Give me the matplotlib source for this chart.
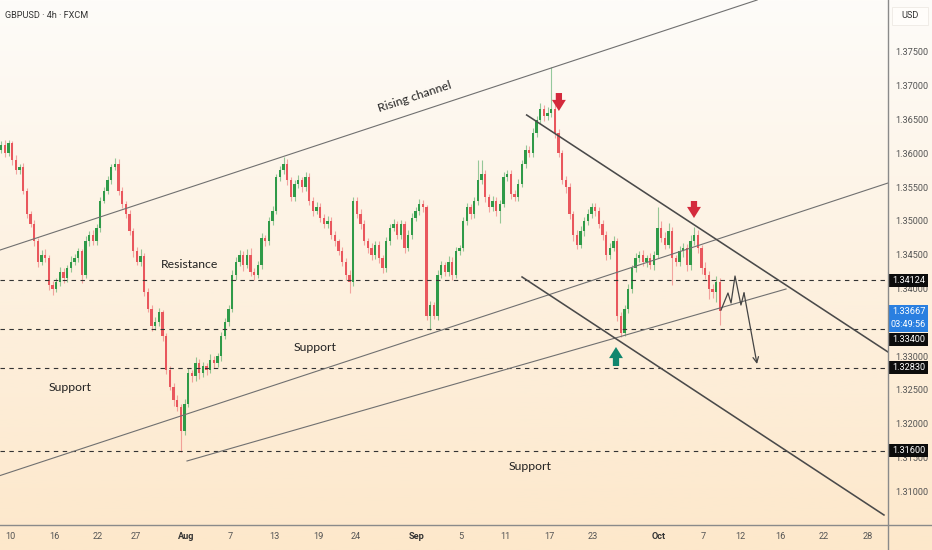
import numpy as np
import matplotlib
matplotlib.use('Agg')
import matplotlib.pyplot as plt
import matplotlib.font_manager as fm
from matplotlib.colors import LinearSegmentedColormap
from matplotlib.patches import Rectangle
from matplotlib.lines import Line2D

# ---------------- data ----------------
symbol_title = "GBPUSD · 4h · FXCM"
first_date = "2025-07-10"          # date at trading-day index 0
bar_start = -0.8                   # trading-day index of the first (8h) bar
bars_per_day = 3
first_open = 1.3605

closes = [
    1.3612, 1.3600, 1.3615, 1.3590, 1.3575, 1.3580, 1.3545, 1.3510, 1.3495, 1.3470,
    1.3440, 1.3450, 1.3445, 1.3405, 1.3400, 1.3410, 1.3425, 1.3415, 1.3430, 1.3440,
    1.3445, 1.3455, 1.3420, 1.3470, 1.3480, 1.3470, 1.3490, 1.3530, 1.3545, 1.3560,
    1.3580, 1.3585, 1.3545, 1.3525, 1.3510, 1.3485, 1.3455, 1.3440, 1.3448, 1.3395,
    1.3370, 1.3345, 1.3350, 1.3365, 1.3330, 1.3280, 1.3255, 1.3235, 1.3225, 1.3190,
    1.3230, 1.3275, 1.3270, 1.3290, 1.3275, 1.3285, 1.3280, 1.3295, 1.3290, 1.3300,
    1.3330, 1.3350, 1.3370, 1.3420, 1.3440, 1.3450, 1.3435, 1.3450, 1.3425, 1.3420,
    1.3435, 1.3475, 1.3470, 1.3500, 1.3515, 1.3565, 1.3575, 1.3585, 1.3560, 1.3535,
    1.3555, 1.3560, 1.3550, 1.3565, 1.3530, 1.3515, 1.3520, 1.3505, 1.3495, 1.3500,
    1.3480, 1.3470, 1.3455, 1.3440, 1.3420, 1.3410, 1.3530, 1.3510, 1.3495, 1.3470,
    1.3460, 1.3450, 1.3465, 1.3445, 1.3430, 1.3470, 1.3490, 1.3495, 1.3480, 1.3495,
    1.3460, 1.3480, 1.3505, 1.3515, 1.3525, 1.3520, 1.3360, 1.3375, 1.3360, 1.3420,
    1.3435, 1.3425, 1.3440, 1.3420, 1.3455, 1.3460, 1.3500, 1.3520, 1.3510, 1.3530,
    1.3560, 1.3570, 1.3535, 1.3520, 1.3530, 1.3515, 1.3525, 1.3565, 1.3570, 1.3540,
    1.3535, 1.3555, 1.3585, 1.3605, 1.3600, 1.3630, 1.3650, 1.3665, 1.3655, 1.3660,
    1.3665, 1.3630, 1.3600, 1.3560, 1.3550, 1.3510, 1.3480, 1.3465, 1.3485, 1.3500,
    1.3510, 1.3520, 1.3515, 1.3495, 1.3480, 1.3450, 1.3460, 1.3470, 1.3360, 1.3335,
    1.3370, 1.3400, 1.3430, 1.3445, 1.3450, 1.3440, 1.3445, 1.3435, 1.3450, 1.3490,
    1.3475, 1.3465, 1.3485, 1.3445, 1.3440, 1.3455, 1.3460, 1.3435, 1.3470, 1.3480,
    1.3460, 1.3430, 1.3420, 1.3400, 1.3395, 1.3410, 1.33667,
]
# wick lengths in pips above max(open, close) / below min(open, close)
wick_up = [
    6, 8, 5, 4, 7, 5, 6, 4, 5, 6, 5, 7, 8, 4, 6, 5, 7, 6, 5, 8,
    6, 5, 4, 8, 5, 7, 6, 5, 6, 7, 5, 8, 6, 5, 4, 6, 5, 7, 10, 5,
    6, 5, 8, 7, 4, 5, 6, 5, 7, 4, 6, 8, 5, 9, 6, 7, 5, 8, 6, 5,
    6, 7, 5, 8, 6, 7, 5, 8, 10, 5, 6, 7, 5, 6, 7, 5, 6, 10, 6, 5,
    6, 8, 5, 7, 6, 5, 8, 6, 5, 7, 6, 5, 4, 6, 5, 7, 6, 5, 7, 6,
    5, 8, 6, 5, 4, 7, 6, 8, 5, 6, 5, 6, 7, 6, 8, 6, 4, 6, 5, 7,
    6, 5, 8, 6, 7, 5, 6, 7, 5, 6, 30, 20, 6, 5, 7, 5, 6, 8, 6, 5,
    6, 7, 5, 8, 6, 7, 6, 9, 6, 8, 63, 8, 6, 5, 7, 6, 5, 6, 7, 6,
    8, 6, 7, 5, 6, 5, 7, 8, 5, 6, 6, 7, 5, 8, 6, 7, 5, 8, 6, 31,
    10, 8, 12, 6, 5, 8, 7, 6, 9, 11, 6, 5, 10, 6, 7, 8, 5,
]
wick_dn = [
    5, 6, 4, 7, 5, 6, 5, 6, 4, 7, 8, 5, 6, 7, 9, 5, 6, 7, 5, 6,
    5, 6, 12, 5, 7, 6, 5, 6, 4, 5, 6, 5, 7, 6, 5, 6, 8, 5, 7, 6,
    5, 8, 6, 5, 7, 6, 5, 8, 6, 32, 6, 5, 8, 7, 9, 6, 8, 5, 7, 6,
    7, 5, 6, 5, 7, 6, 9, 5, 6, 7, 5, 6, 7, 5, 6, 5, 6, 5, 7, 6,
    5, 6, 7, 5, 6, 8, 5, 7, 6, 5, 6, 7, 5, 6, 8, 16, 6, 5, 7, 6,
    7, 8, 6, 7, 7, 5, 6, 5, 7, 6, 8, 5, 6, 5, 6, 7, 6, 21, 5, 6,
    5, 7, 6, 8, 5, 6, 5, 6, 7, 5, 6, 5, 7, 6, 5, 8, 18, 5, 6, 7,
    5, 6, 5, 7, 6, 5, 6, 5, 7, 6, 6, 7, 5, 6, 8, 7, 9, 6, 5, 7,
    6, 5, 7, 6, 8, 7, 6, 5, 8, 7, 5, 6, 7, 5, 6, 7, 8, 6, 7, 5,
    6, 7, 5, 40, 7, 6, 8, 9, 7, 6, 7, 8, 6, 15, 9, 15, 21,
]

date_ticks = ["2025-07-10", "2025-07-16", "2025-07-22", "2025-07-27", "2025-08-01",
              "2025-08-07", "2025-08-13", "2025-08-19", "2025-08-24", "2025-09-01",
              "2025-09-05", "2025-09-11", "2025-09-17", "2025-09-23", "2025-10-01",
              "2025-10-07", "2025-10-12", "2025-10-16", "2025-10-22", "2025-10-28"]
date_labels = ["10", "16", "22", "27", "Aug", "7", "13", "19", "24", "Sep",
               "5", "11", "17", "23", "Oct", "7", "12", "16", "22", "28"]
month_labels = {"Aug", "Sep", "Oct"}

price_ticks = [1.310, 1.315, 1.320, 1.325, 1.330, 1.340, 1.345,
               1.350, 1.355, 1.360, 1.365, 1.370, 1.375]
level_prices = [1.34124, 1.33400, 1.32830, 1.31600]
last_price = 1.33667
countdown = "03:49:56"

# drawings anchored at (trading-day index, price)
channel_upper = [(-0.91, 1.3457), (62.73, 1.3799)]
channel_lower = [(16.36, 1.3216), (79.82, 1.35562)]
inner_rising = [(16.09, 1.3145), (70.55, 1.33994)]
desc_upper = [(46.97, 1.36568), (79.82, 1.33062)]
desc_lower = [(46.55, 1.34172), (79.45, 1.30651)]
projection = [(64.64, 1.33683), (65.27, 1.33935), (65.55, 1.33787), (65.91, 1.34186),
              (66.45, 1.33757), (66.73, 1.33935), (67.91, 1.32885)]
down_arrows = [((49.9, 1.36893), (49.9, 1.36627)), ((62.18, 1.35296), (62.18, 1.35044))]
up_arrows = [((55.09, 1.32855), (55.09, 1.33136))]
labels = [("Rising channel", 36.8, 1.3683, 18.2),
          ("Resistance", 16.36, 1.3436, 0),
          ("Support", 27.73, 1.3313, 0),
          ("Support", 5.45, 1.3254, 0),
          ("Support", 47.27, 1.3137, 0)]

# ---------------- fonts ----------------
avail = {f.name for f in fm.fontManager.ttflist}
if 'Liberation Sans Narrow' in avail:
    AXIS_FAMILY, AFS = 'Liberation Sans Narrow', 7.8
else:
    AXIS_FAMILY, AFS = 'Roboto', 6.6
label_font = 'Lato' if 'Lato' in avail else 'DejaVu Sans'

# ---------------- figure ----------------
W, H = 932, 550
fig = plt.figure(figsize=(W / 100, H / 100), dpi=100)

bg = fig.add_axes([0, 0, 1, 1], zorder=0)
bg.axis('off')
cmap = LinearSegmentedColormap.from_list('bg', ['#fefcf9', '#fdf1e0', '#fde8cb'])
bg.imshow(np.linspace(0, 1, 256)[:, None], aspect='auto', cmap=cmap,
          extent=[0, 1, 0, 1], origin='upper')

AX_W, AX_B = 888, 25
ax = fig.add_axes([0, AX_B / H, AX_W / W, (H - AX_B) / H], zorder=1)
ax.patch.set_alpha(0)
ax.set_xlim(-10 / 11, 878 / 11)
ax.set_ylim(1.30503, 1.38269)
for s in ax.spines.values():
    s.set_visible(False)

# candles
c = np.array(closes)
o = np.concatenate([[first_open], c[:-1]])
x = bar_start + np.arange(len(c)) / bars_per_day
hi = np.maximum(o, c) + np.array(wick_up) * 1e-4
lo = np.minimum(o, c) - np.array(wick_dn) * 1e-4
up = c >= o
GREEN, RED = '#2f9a48', '#e9575d'
cols = np.where(up, GREEN, RED)
ax.vlines(x, lo, hi, colors=cols, lw=0.8, alpha=0.5, zorder=2)
body = np.maximum(np.abs(c - o), 0.00012)
ax.bar(x, body, bottom=np.minimum(o, c), width=0.2, color=cols, lw=0, zorder=3)

# horizontal levels
for p in level_prices:
    ax.axhline(p, color='#333333', lw=0.8, dashes=(4, 4), zorder=4)

# trend lines
ax.axline(*channel_upper, color='#707070', lw=0.8, zorder=4)
ax.axline(*channel_lower, color='#707070', lw=0.8, zorder=4)
ax.plot(*zip(*inner_rising), color='#707070', lw=0.8, zorder=4)
for seg in (desc_upper, desc_lower):
    ax.plot(*zip(*seg), color='#4a4a4a', lw=1.15, zorder=4)

# projection path
px, py = zip(*projection)
ax.plot(px[:-1], py[:-1], color='#444444', lw=0.9, zorder=5)
ax.annotate('', xy=projection[-1], xytext=projection[-2],
            arrowprops=dict(arrowstyle='->,head_length=0.4,head_width=0.2',
                            color='#444444', lw=0.9, shrinkA=0, shrinkB=0), zorder=5)

# block arrows
for tail, tip in down_arrows:
    ax.annotate('', xy=tip, xytext=tail,
                arrowprops=dict(arrowstyle='simple,head_length=0.8,head_width=1.0,tail_width=0.45',
                                color='#d42a3c', lw=0, shrinkA=0, shrinkB=0), zorder=6)
for tail, tip in up_arrows:
    ax.annotate('', xy=tip, xytext=tail,
                arrowprops=dict(arrowstyle='simple,head_length=0.8,head_width=1.0,tail_width=0.45',
                                color='#11866e', lw=0, shrinkA=0, shrinkB=0), zorder=6)

# text labels
for txt, lx, ly, rot in labels:
    ax.text(lx, ly, txt, rotation=rot, ha='center', va='center', fontsize=8.8,
            family=label_font, color='#222222', zorder=7, rotation_mode='anchor')

# axes ticks
ax.yaxis.tick_right()
ax.set_yticks(price_ticks)
ax.set_yticklabels([f"{t:.5f}" for t in price_ticks])
ax.tick_params(axis='y', length=0, pad=5, labelcolor='#555555', labelsize=AFS)

d0 = np.datetime64(first_date)
tick_pos = []
for d in date_ticks:
    dd = np.datetime64(d)
    pos = float(np.busday_count(d0, dd))
    if (dd.astype('datetime64[D]').view('int64') - 4) % 7 == 6:   # Sunday session label
        pos -= 0.6
    tick_pos.append(pos)
ax.set_xticks(tick_pos)
ax.set_xticklabels(date_labels)
ax.tick_params(axis='x', length=0, pad=5, labelcolor='#555555', labelsize=AFS)
for t in ax.get_xticklabels() + ax.get_yticklabels():
    t.set_family(AXIS_FAMILY)
for t in ax.get_xticklabels():
    if t.get_text() in month_labels:
        t.set_fontweight('bold')
        t.set_color('#333333')

# ---------------- overlay (UI chrome in pixels) ----------------
ov = fig.add_axes([0, 0, 1, 1], zorder=5)
ov.set_xlim(0, W)
ov.set_ylim(H, 0)
ov.axis('off')
ov.patch.set_alpha(0)
ov.add_line(Line2D([AX_W, AX_W], [0, H], color='#8a8a8a', lw=1))
ov.add_line(Line2D([0, W], [H - AX_B, H - AX_B], color='#8a8a8a', lw=1))

fig.canvas.draw()
def ypx(p):
    return H - ax.transData.transform((0, p))[1]

# USD box
ov.add_patch(Rectangle((892, 7), 36, 18, facecolor='#fffdfa', edgecolor='#eeeae4', lw=0.6))
ov.text(910, 16, 'USD', ha='center', va='center', family=AXIS_FAMILY, fontsize=AFS, color='#333333')

# last price box
yl = ypx(last_price)
blue_top = yl - 6.5
ov.add_patch(Rectangle((889, blue_top), 39, 27, facecolor='#2a7fe0', edgecolor='none'))
ov.text(908.5, yl, f"{last_price:.5f}", ha='center', va='center', family=AXIS_FAMILY, fontsize=AFS, color='white')
ov.text(908.5, yl + 13, countdown, ha='center', va='center', family=AXIS_FAMILY, fontsize=AFS, color='white')
blue_bot = blue_top + 27

for p in level_prices:
    yc = ypx(p)
    if blue_top - 7 < yc < blue_bot + 7 and yc > yl:
        yc = blue_bot + 7.5
    ov.add_patch(Rectangle((889, yc - 6.5), 39, 13, facecolor='#0c0c0c', edgecolor='none'))
    ov.text(908.5, yc, f"{p:.5f}", ha='center', va='center', family=AXIS_FAMILY, fontsize=AFS, color='white')

fig.text(5 / W, 1 - 15 / H, symbol_title, family=AXIS_FAMILY, fontsize=AFS, color='#333333', va='center')

fig.savefig('out.png', dpi=100)
